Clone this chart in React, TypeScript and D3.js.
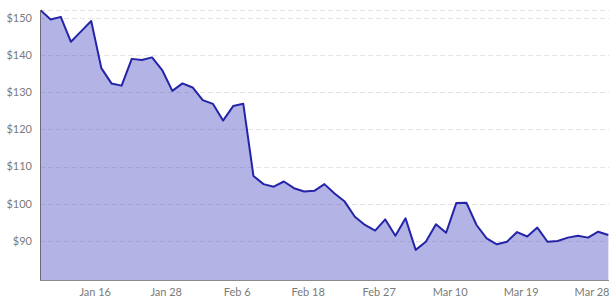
import React from "react";
import * as d3 from "d3";

const dates = [
  "Jan 9", "Jan 10", "Jan 13", "Jan 14", "Jan 15", "Jan 16", "Jan 17", "Jan 21", "Jan 22", "Jan 23",
  "Jan 24", "Jan 27", "Jan 28", "Jan 29", "Jan 30", "Jan 31", "Feb 3", "Feb 4", "Feb 5", "Feb 6",
  "Feb 7", "Feb 10", "Feb 11", "Feb 12", "Feb 13", "Feb 14", "Feb 18", "Feb 19", "Feb 20", "Feb 21",
  "Feb 24", "Feb 25", "Feb 26", "Feb 27", "Feb 28", "Mar 3", "Mar 4", "Mar 5", "Mar 6", "Mar 7",
  "Mar 10", "Mar 11", "Mar 12", "Mar 13", "Mar 14", "Mar 17", "Mar 18", "Mar 19", "Mar 20", "Mar 21",
  "Mar 24", "Mar 25", "Mar 26", "Mar 27", "Mar 28", "Mar 31", "Apr 1",
];

const prices = [
  152.1, 149.6, 150.3, 143.6, 146.4, 149.2, 136.5, 132.4, 131.8, 139.0,
  138.7, 139.4, 136.0, 130.4, 132.4, 131.3, 127.9, 126.9, 122.4, 126.3,
  126.9, 107.5, 105.3, 104.6, 106.0, 104.2, 103.3, 103.5, 105.3, 102.8,
  100.6, 96.5, 94.3, 92.8, 95.8, 91.4, 96.1, 87.6, 89.8, 94.5,
  92.2, 100.2, 100.3, 94.3, 90.7, 89.1, 89.8, 92.4, 91.2, 93.6,
  89.8, 90.0, 90.9, 91.4, 90.9, 92.5, 91.6,
];

const tickDates = ["Jan 16", "Jan 28", "Feb 6", "Feb 18", "Feb 27", "Mar 10", "Mar 19", "Mar 28"];
const yTicks = [90, 100, 110, 120, 130, 140, 150];

const W = 609;
const H = 300;
const left = 40;
const top = 10;
const bottom = 280;

export default function App() {
  const step = 10.14;
  const x = d3
    .scalePoint<string>()
    .domain(dates)
    .range([left + 0.5, left + 0.5 + step * (dates.length - 1)]);
  const y = d3.scaleLinear().domain([79.5, 152.15]).range([bottom, top]);

  const data = dates.map((d, i) => ({ d, v: prices[i] }));
  const area = d3
    .area<{ d: string; v: number }>()
    .x((p) => x(p.d) as number)
    .y0(bottom)
    .y1((p) => y(p.v));
  const line = d3
    .line<{ d: string; v: number }>()
    .x((p) => x(p.d) as number)
    .y((p) => y(p.v));

  const font = "Lato, 'Open Sans', sans-serif";

  return (
    <svg
      width={W}
      height={H}
      style={{ position: "absolute", left: 0, top: 0, background: "#fff" }}
    >
      <defs>
        <clipPath id="plot">
          <rect x={left} y={0} width={W - left} height={bottom} />
        </clipPath>
      </defs>
      {[...yTicks, y.domain()[1]].map((t, i) => (
        <line
          key={"g" + i}
          x1={left}
          x2={W}
          y1={Math.round(y(t)) + 0.5}
          y2={Math.round(y(t)) + 0.5}
          stroke="#e4e4e4"
          strokeDasharray="5,3"
        />
      ))}
      <g clipPath="url(#plot)">
        <path d={area(data) || ""} fill="#4040c0" fillOpacity={0.4} />
        <path
          d={line(data) || ""}
          fill="none"
          stroke="#2424a8"
          strokeWidth={2}
          strokeLinejoin="round"
        />
      </g>
      <line x1={left + 0.5} x2={left + 0.5} y1={top} y2={bottom} stroke="#6a6a7a" />
      <line x1={left} x2={W} y1={bottom + 0.5} y2={bottom + 0.5} stroke="#8a8a8a" />
      {yTicks.map((t) => (
        <text
          key={"y" + t}
          x={32}
          y={y(t)}
          dy="0.35em"
          textAnchor="end"
          fontFamily={font}
          fontSize={11}
          fill="#7a7a7a"
        >
          {"$" + t}
        </text>
      ))}
      {tickDates.map((t) => (
        <text
          key={"x" + t}
          x={(x(t) as number) + 4}
          y={296}
          textAnchor="middle"
          fontFamily={font}
          fontSize={11}
          fill="#7a7a7a"
        >
          {t}
        </text>
      ))}
    </svg>
  );
}
